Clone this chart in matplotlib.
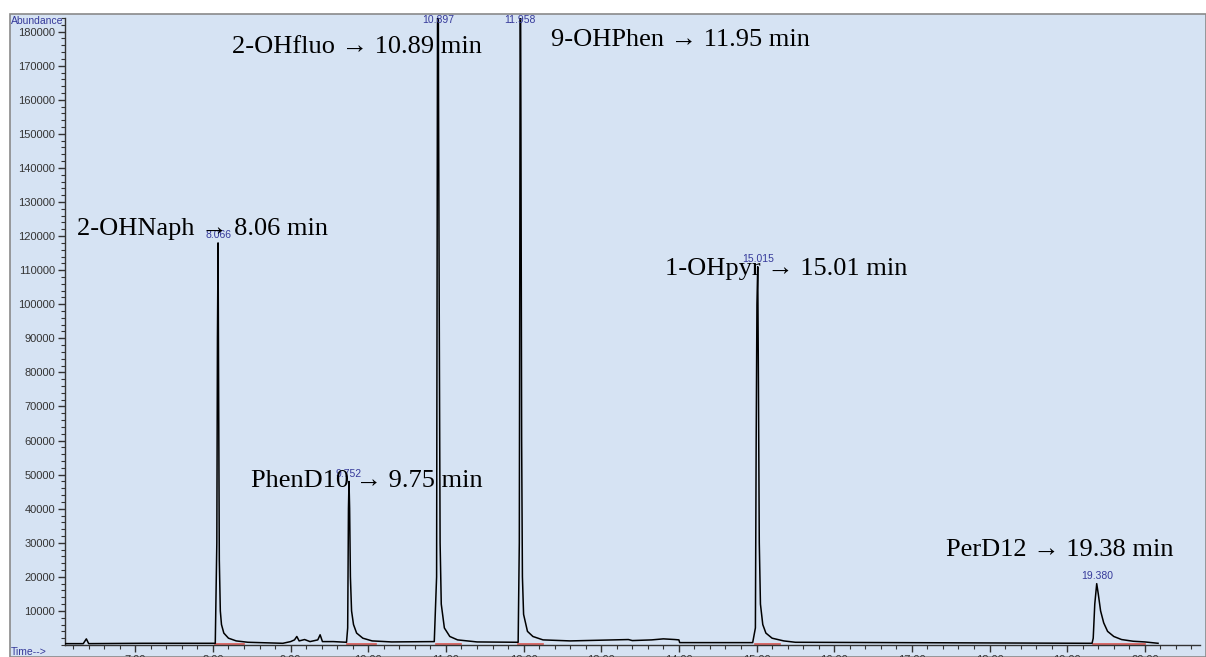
import matplotlib.pyplot as plt
from matplotlib.patches import Rectangle
from matplotlib.ticker import MultipleLocator

# TIC chromatogram (time in min, abundance)
trace_time = [6.095, 6.33, 6.37, 6.40, 7.10, 8.03, 8.050, 8.058, 8.066, 8.074,
              8.082, 8.095, 8.11, 8.14, 8.20, 8.30, 8.45, 8.90, 9.00, 9.05,
              9.08, 9.11, 9.18, 9.25, 9.35, 9.38, 9.41, 9.55, 9.72, 9.735,
              9.745, 9.752, 9.760, 9.770, 9.785, 9.81, 9.85, 9.93, 10.05, 10.30,
              10.85, 10.880, 10.890, 10.897, 10.905, 10.915, 10.925, 10.94, 10.98, 11.05,
              11.15, 11.40, 11.93, 11.945, 11.952, 11.958, 11.966, 11.975, 11.985, 12.00,
              12.05, 12.12, 12.25, 12.60, 13.35, 13.40, 13.65, 13.80, 13.95, 14.00,
              14.01, 14.95, 14.985, 14.995, 15.005, 15.015, 15.024, 15.035, 15.05, 15.08,
              15.12, 15.20, 15.35, 15.50, 19.32, 19.335, 19.355, 19.380, 19.400, 19.43,
              19.47, 19.52, 19.60, 19.70, 19.85, 20.00, 20.17]
trace_abund = [400, 400, 1800, 400, 500, 500, 30000, 90000, 118000, 70000,
               25000, 10000, 6000, 3500, 2000, 1200, 800, 500, 1000, 1500,
               2500, 1200, 1600, 1000, 1500, 3000, 1000, 1000, 800, 5000,
               40000, 48000, 40000, 20000, 10000, 6000, 3500, 2000, 1200, 900,
               1000, 20000, 160000, 240000, 160000, 90000, 30000, 12000, 5000, 2500,
               1500, 900, 800, 30000, 125000, 220000, 150000, 60000, 20000, 9000,
               4000, 2500, 1500, 1200, 1600, 1300, 1500, 1800, 1600, 1500,
               700, 700, 5000, 60000, 100000, 111000, 77000, 30000, 12000, 6000,
               3500, 2000, 1200, 800, 500, 2000, 12000, 18000, 15000, 10000,
               6500, 4000, 2500, 1600, 1100, 900, 500]

# peak apex labels
peak_rt = [8.066, 9.752, 10.897, 11.958, 15.015, 19.380]
peak_height = [118000, 48000, 240000, 220000, 111000, 18000]
peak_label = ["8.066", "9.752", "10.897", "11.958", "15.015", "19.380"]

# integration baselines (start, end)
integ_start = [8.03, 9.73, 10.87, 11.93, 14.98, 19.33]
integ_end = [8.40, 10.10, 11.20, 12.25, 15.30, 20.00]

# compound annotations
comp_text = ["2-OHNaph \u2192 8.06 min", "PhenD10 \u2192 9.75 min",
             "2-OHfluo \u2192 10.89 min", "9-OHPhen \u2192 11.95 min",
             "1-OHpyr \u2192 15.01 min", "PerD12 \u2192 19.38 min"]
comp_x = [6.25, 8.495, 8.24, 12.35, 13.82, 17.44]
comp_y = [122000, 48200, 175600, 177400, 110300, 27900]

W, H = 1206, 657
fig = plt.figure(figsize=(W / 100, H / 100), dpi=100)
fig.patch.set_facecolor("white")
bg = "#d6e3f3"
fig.add_artist(Rectangle((10 / W, 0), 1 - 10 / W, (H - 14) / H, transform=fig.transFigure,
                         facecolor=bg, edgecolor="#8a8a8a", linewidth=1.2, zorder=0))

ax = fig.add_axes([65 / W, 12 / H, 1135 / W, 627 / H])
ax.set_facecolor("none")
ax.set_xlim(6.095, 20.71)
ax.set_ylim(0, 184000)
for s in ["top", "right"]:
    ax.spines[s].set_visible(False)
for s in ["left", "bottom"]:
    ax.spines[s].set_color("#333333")
    ax.spines[s].set_linewidth(1)

ax.xaxis.set_major_locator(MultipleLocator(1))
ax.xaxis.set_minor_locator(MultipleLocator(0.2))
ax.yaxis.set_major_locator(MultipleLocator(10000))
ax.yaxis.set_minor_locator(MultipleLocator(2000))
ax.set_yticks([v for v in range(10000, 190000, 10000)])
ax.set_xticks(range(7, 21))
ax.set_xticklabels([f"{v:.2f}" for v in range(7, 21)])
ax.tick_params(which="major", length=5, width=1, color="#333333", labelsize=8,
               labelcolor="#333333", pad=2)
ax.tick_params(which="minor", length=3, width=0.8, color="#333333")
for lab in ax.get_xticklabels() + ax.get_yticklabels():
    lab.set_family("Liberation Sans")

for a, b in zip(integ_start, integ_end):
    ax.plot([a, b], [300, 300], color="#d9534f", lw=1.2, zorder=2)

ax.plot(trace_time, trace_abund, color="black", lw=1.1, zorder=3)

top = 181000
for rt, h, lab in zip(peak_rt, peak_height, peak_label):
    ax.annotate(lab, (rt, min(h, top)), xytext=(0, 2), textcoords="offset points",
                ha="center", va="bottom", fontsize=7.5, color="#35399a",
                family="Liberation Sans", zorder=4)

for t, x, y in zip(comp_text, comp_x, comp_y):
    ax.text(x, y, t, fontsize=19, va="center", ha="left",
            family=["Liberation Serif", "DejaVu Serif"], color="black", zorder=5)

fig.text(11 / W, 1 - 21 / H, "Abundance", fontsize=7.5, color="#35399a",
         family="Liberation Sans", ha="left", va="center")
fig.text(11 / W, 1 - 652 / H, "Time-->", fontsize=7.5, color="#35399a",
         family="Liberation Sans", ha="left", va="center")

fig.savefig("out.png", dpi=100, facecolor=fig.get_facecolor())
